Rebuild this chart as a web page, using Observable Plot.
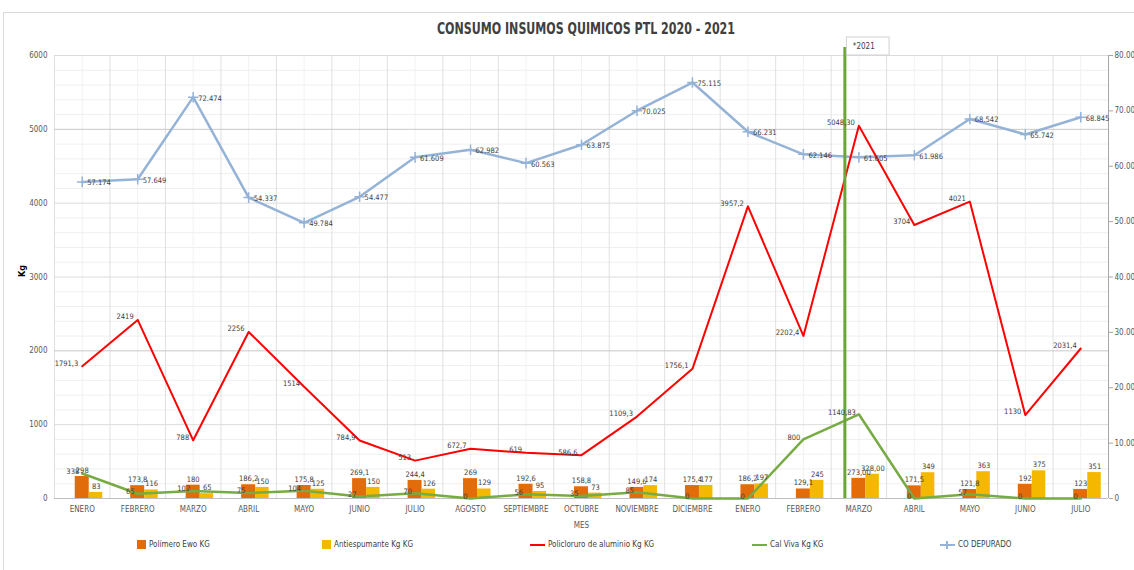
<!DOCTYPE html>
<html><head><meta charset="utf-8">
<script src="https://cdn.jsdelivr.net/npm/d3@7"></script>
<script src="https://cdn.jsdelivr.net/npm/@observablehq/plot@0.6"></script>
<style>
html,body{margin:0;padding:0;background:#fff;overflow:hidden;width:1134px;height:570px;}
#wrap{position:relative;width:1134px;height:570px;overflow:hidden;font-family:"Liberation Sans Narrow","DejaVu Sans Condensed","Liberation Sans",sans-serif;}
#frame{position:absolute;left:3px;top:12px;width:1160px;height:600px;border:1px solid #d9d9d9;box-sizing:border-box}
#title{position:absolute;left:0;width:1172px;top:20px;text-align:center;font-weight:bold;font-size:15px;color:#404040;white-space:nowrap;transform:scaleX(0.82);transform-origin:586px 0}
#chart{position:absolute;left:0;top:36px}
.lg{position:absolute;top:540px;font-size:8px;color:#404040;display:flex;align-items:center;white-space:nowrap}
.sq{width:9px;height:9px;margin-right:3px}
.ln{width:15px;height:2px;margin-right:3px;position:relative}
</style></head>
<body><div id="wrap">
<div id="frame"></div>
<div id="title">CONSUMO INSUMOS QUIMICOS PTL 2020 - 2021</div>
<div id="chart"></div>
<div id="legend"></div>
</div>
<script>
const meses = ["ENERO","FEBRERO","MARZO","ABRIL","MAYO","JUNIO","JULIO","AGOSTO","SEPTIEMBRE","OCTUBRE","NOVIEMBRE","DICIEMBRE","ENERO","FEBRERO","MARZO","ABRIL","MAYO","JUNIO","JULIO"];
const anios = [2020,2020,2020,2020,2020,2020,2020,2020,2020,2020,2020,2020,2021,2021,2021,2021,2021,2021,2021];
const polimero = [298,173.8,180,186.2,175.8,269.1,244.4,269,192.6,158.8,149.6,175.4,186.2,129.1,273.00,171.5,121.8,192,123];
const antiespumante = [83,116,65,150,125,150,126,129,95,73,174,177,197,245,328,349,363,375,351];
const policloruro = [1791.3,2419,788,2256,1514,784.9,513,672.7,619,586.6,1109.3,1756.1,3957.2,2202.4,5048.30,3704,4021,1130,2031.4];
const calViva = [338,65,102,75,104,27,70,0,56,35,85,0,0,800,1140.83,0,57,0,0];
const coDepurado = [57.174,57.649,72.474,54.337,49.784,54.477,61.609,62.982,60.563,63.875,70.025,75.115,66.231,62.146,61.605,61.986,68.542,65.742,68.845];
const leftTicks = [0,1000,2000,3000,4000,5000,6000];
const rightTicks = [0,10,20,30,40,50,60,70,80];
const series = ["Polímero Ewo KG","Antiespumante Kg KG","Policloruro de aluminio Kg KG","Cal Viva Kg KG","CO DEPURADO"];
const colors = ["#E26B0A","#F5B800","#FF0000","#77AB43","#95B3D7"];

const claves = meses.map((m,i)=>anios[i]+"-"+m+"-"+i);
const F = 6000/80; // right axis (thousands) -> left axis units
const comma = v => String(v).replace(".", ",");
const fix2 = new Set([14]);
const lab = (v,i) => fix2.has(i) ? v.toFixed(2).replace(".", ",") : comma(v);
const data = claves.map((k,i)=>({k, pol:polimero[i], anti:antiespumante[i], pac:policloruro[i], cal:calViva[i], co:coDepurado[i]*F,
  lpol: lab(polimero[i],i), lanti: lab(antiespumante[i],i), lpac: lab(policloruro[i],i), lcal: lab(calViva[i],i), lco: coDepurado[i].toFixed(3)}));

const W=1134, mL=54, mR=26;
const bw = (W-mL-mR)/claves.length;
const font = '"Liberation Sans Narrow","DejaVu Sans Condensed","Liberation Sans",sans-serif';
const lc = "#404040";
const fs = 7.5;

const chart = Plot.plot({
  width: W, height: 498, marginTop: 19, marginBottom: 36, marginLeft: mL, marginRight: mR,
  x: {type:"band", domain: claves, padding: 0, round: false, axis: null},
  y: {domain: [0,6000], axis: null},
  style: {fontFamily: font, fontSize: "8px", color: "#595959", background: "transparent", overflow: "visible"},
  marks: [
    Plot.ruleY(d3.range(200,6001,200).filter(v=>v%1000), {stroke:"#efefef"}),
    Plot.ruleX(claves, {stroke:"#f2f2f2"}),
    Plot.ruleX(claves, {dx:-bw/2, stroke:"#e0e0e0"}),
    Plot.ruleY([1000,3000,4000,6000], {stroke:"#dcdcdc"}),
    Plot.ruleY([2000,5000], {stroke:"#c8c8c8"}),
    Plot.ruleY([0], {stroke:"#bfbfbf"}),
    Plot.ruleX([claves[claves.length-1]], {dx: bw/2, stroke:"#a6a6a6"}),
    Plot.axisX({tickSize:0, tickPadding:8, tickFormat: k => k.split("-")[1], label:"MES", labelAnchor:"center", labelOffset:29, fontSize:8}),
    Plot.axisY({ticks: leftTicks, tickSize:0, tickPadding:7, label:null, tickFormat: d => String(d)}),
    Plot.axisY({anchor:"right", ticks: rightTicks.map(v=>v*F), tickSize:4, tickPadding:2, stroke:"#a6a6a6", label:null,
      tickFormat: v => d3.format(",")(Math.round(v/F*1000)).replace(/,/g,".")}),
    Plot.text(["Kg"], {frameAnchor:"left", dx:-32, rotate:-90, fontWeight:"bold", fontSize:9, fill:"#000"}),
    Plot.barY(data, {x:"k", y:"pol", fill:colors[0], insetLeft: bw/2-7, insetRight: bw/2-7}),
    Plot.barY(data, {x:"k", y:"anti", fill:colors[1], insetLeft: bw/2+7, insetRight: bw/2-20.5}),
    Plot.line(data, {x:"k", y:"co", stroke:colors[4], strokeWidth:2.5}),
    Plot.dot(data, {x:"k", y:"co", symbol:"plus", r:3.5, stroke:colors[4], strokeWidth:1.5}),
    Plot.line(data, {x:"k", y:"pac", stroke:colors[2], strokeWidth:2}),
    Plot.line(data, {x:"k", y:"cal", stroke:colors[3], strokeWidth:2.5}),
    Plot.ruleX([claves[14]], {dx:-14, y1:0, y2:6110, stroke:"#6BA539", strokeWidth:3}),
    Plot.barY([claves[14]], {x: d=>d, y1:6000, y2:6244, fill:"white", stroke:"#d0d0d0", insetLeft: bw/2-12, insetRight: -3}),
    Plot.text([claves[14]], {x: d=>d, y:6122, dx:-6, text:()=>"*2021", textAnchor:"start", fontSize:8, fill:lc}),
    Plot.text(data, {x:"k", y:"pac", text:"lpac", textAnchor:"end", dx:-4, dy:-3, fontSize:fs, fill:lc}),
    Plot.text(data, {x:"k", y:"co", text:"lco", textAnchor:"start", dx:5, dy:1, fontSize:fs, fill:lc}),
    Plot.text(data, {x:"k", y:"cal", text:"lcal", textAnchor:"end", dx:-3, dy:-2, fontSize:fs, fill:lc}),
    Plot.text(data, {x:"k", y:"pol", text:"lpol", dy:-6, fontSize:fs, fill:lc}),
    Plot.text(data, {x:"k", y:"anti", text:"lanti", dx:14, dy:-6, fontSize:fs, fill:lc})
  ]
});
document.getElementById("chart").appendChild(chart);

// legend
const lgPos = [137, 322, 530, 752, 940];
const legend = document.getElementById("legend");
series.forEach((s,i)=>{
  const d = document.createElement("div");
  d.className = "lg"; d.style.left = lgPos[i]+"px";
  const sw = document.createElement("span");
  if (i < 2) { sw.className = "sq"; sw.style.background = colors[i]; }
  else {
    sw.className = "ln"; sw.style.background = colors[i];
    if (i === 4) { sw.innerHTML = '<span style="position:absolute;left:6px;top:-3px;width:2px;height:8px;background:'+colors[i]+'"></span>'; }
  }
  d.appendChild(sw);
  d.appendChild(document.createTextNode(s));
  legend.appendChild(d);
});
</script>
</body></html>
